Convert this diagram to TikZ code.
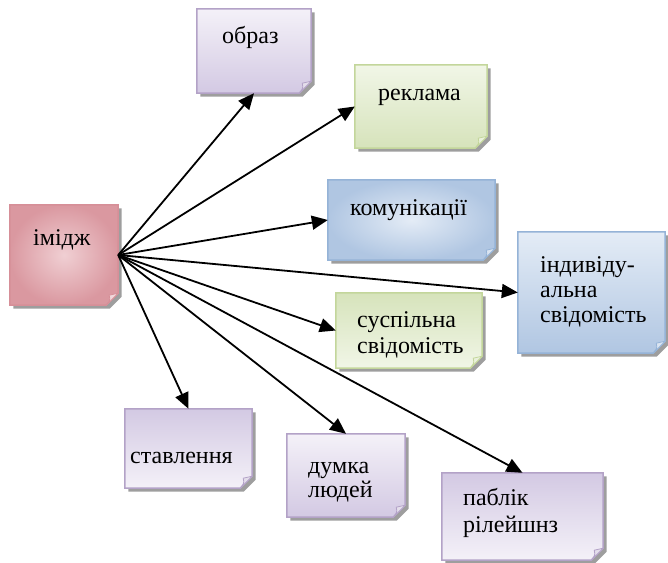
\documentclass[tikz,border=0pt]{standalone}
\usepackage{fontspec}
\setmainfont{Liberation Serif}
\newfontfamily\cardfont{Liberation Serif}
\usetikzlibrary{arrows.meta,calc}

% card colours: border, light and dark fill
\definecolor{pinkline}{HTML}{D68F98}
\definecolor{pinklight}{HTML}{F0CFD3}
\definecolor{pinkdark}{HTML}{DA98A0}
\definecolor{lavline}{HTML}{B3A2C7}
\definecolor{lavlight}{HTML}{F4F1F8}
\definecolor{lavdark}{HTML}{D3C9E3}
\definecolor{greenline}{HTML}{C3D69B}
\definecolor{greenlight}{HTML}{F1F6E7}
\definecolor{greendark}{HTML}{D6E3BB}
\definecolor{blueline}{HTML}{95B3D7}
\definecolor{bluelight}{HTML}{E4ECF6}
\definecolor{bluedark}{HTML}{B0C6E2}

\tikzset{
  card/.style={rectangle, draw=none, inner sep=0pt},
  lbl/.style={anchor=base west, inner sep=0pt,
    font=\cardfont\fontsize{24}{25}\selectfont},
  link/.style={line width=1.8pt, -{Triangle[length=16pt,width=14pt]}},
}

% note card with a shadow and a turned-up lower right corner
% #1 node name, #2 fill shading, #3 border colour
\newcommand\notecard[3]{%
  \fill[black!38]
    ($(#1.north west)+(3.5,3.5)$) -- ($(#1.north east)+(3.5,3.5)$)
    -- ($(#1.south east)+(3.5,-8.5)$) -- ($(#1.south east)+(-8.5,3.5)$)
    -- ($(#1.south west)+(3.5,3.5)$) -- cycle;
  \path[#2, draw=#3, line width=1.5pt]
    (#1.north west) -- (#1.north east)
    -- ($(#1.south east)+(0,-12)$) -- ($(#1.south east)+(-12,0)$)
    -- (#1.south west) -- cycle;
  \path[fill=#3!35!white, draw=#3, line width=0.8pt, line join=round]
    ($(#1.south east)+(0,-12)$) -- ($(#1.south east)+(-12,0)$)
    .. controls ($(#1.south east)+(-8,-5)$) .. ($(#1.south east)+(-9,-10)$)
    -- cycle;
}

\begin{document}
\begin{tikzpicture}[x=1pt,y=-1pt]
\useasboundingbox (0,0) rectangle (668,562);

% card frames
\node[card, minimum width=108pt, minimum height=100pt] (imidzh)   at (64,255)    {};
\node[card, minimum width=114pt, minimum height=84pt]  (obraz)    at (254,51)    {};
\node[card, minimum width=132pt, minimum height=83pt]  (reklama)  at (421,106.5) {};
\node[card, minimum width=167pt, minimum height=80pt]  (komunik)  at (411.5,220) {};
\node[card, minimum width=147pt, minimum height=121pt] (indiv)    at (591.5,292.5) {};
\node[card, minimum width=146pt, minimum height=75pt]  (suspil)   at (409,330.5) {};
\node[card, minimum width=127pt, minimum height=79pt]  (stavl)    at (188.5,448.5) {};
\node[card, minimum width=118pt, minimum height=83pt]  (dumka)    at (346,475.5) {};
\node[card, minimum width=161pt, minimum height=87pt]  (pablik)   at (522.5,516.5) {};

\notecard{imidzh}{inner color=pinklight, outer color=pinkdark}{pinkline}
\notecard{obraz}{top color=lavlight, bottom color=lavdark}{lavline}
\notecard{reklama}{top color=greenlight, bottom color=greendark}{greenline}
\notecard{komunik}{inner color=bluelight, outer color=bluedark}{blueline}
\notecard{indiv}{top color=bluelight, bottom color=bluedark}{blueline}
\notecard{suspil}{top color=greendark, bottom color=greenlight}{greenline}
\notecard{stavl}{top color=lavdark, bottom color=lavlight}{lavline}
\notecard{dumka}{top color=lavlight, bottom color=lavdark}{lavline}
\notecard{pablik}{top color=lavdark, bottom color=lavlight}{lavline}

% labels
\node[lbl] (imidzh-t)  at (33,245)  {імідж};
\node[lbl] (obraz-t)   at (222,43)  {образ};
\node[lbl] (reklama-t) at (378,100) {реклама};
\node[lbl] (komunik-t) at (350,215) {комунікації};
\node[lbl] (indiv-t1)  at (540,272) {індивіду-};
\node[lbl] (indiv-t2)  at (540,297) {альна};
\node[lbl] (indiv-t3)  at (540,322) {свідомість};
\node[lbl] (suspil-t1) at (357,327) {суспільна};
\node[lbl] (suspil-t2) at (357,353) {свідомість};
\node[lbl] (stavl-t)   at (130,463) {ставлення};
\node[lbl] (dumka-t1)  at (308,473) {думка};
\node[lbl] (dumka-t2)  at (308,497) {людей};
\node[lbl] (pablik-t1) at (463,505) {паблік};
\node[lbl] (pablik-t2) at (463,532) {рілейшнз};

% connectors from the central card
\draw[link] (imidzh.east) -- (obraz.south);
\draw[link] (imidzh.east) -- (reklama.west);
\draw[link] (imidzh.east) -- (komunik.west);
\draw[link] (imidzh.east) -- (indiv.west);
\draw[link] (imidzh.east) -- (suspil.west);
\draw[link] (imidzh.east) -- (stavl.north);
\draw[link] (imidzh.east) -- (dumka.north);
\draw[link] (imidzh.east) -- (pablik.north);
\end{tikzpicture}
\end{document}
